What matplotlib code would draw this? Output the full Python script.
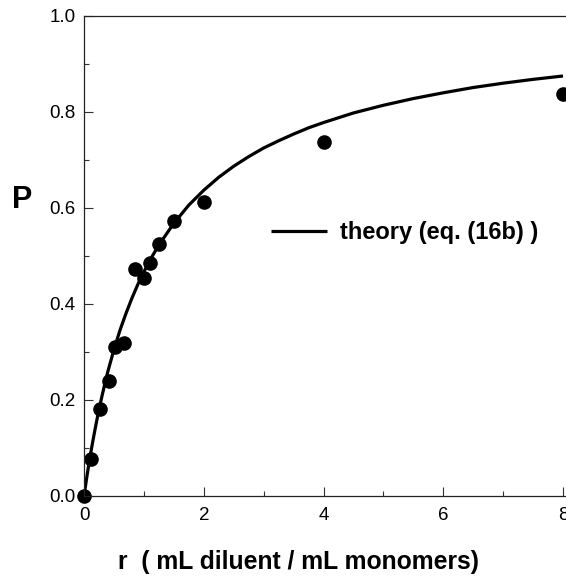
import matplotlib
matplotlib.use('Agg')
import matplotlib.pyplot as plt
from matplotlib.ticker import MultipleLocator

plt.rcParams['font.family'] = ['Liberation Sans', 'DejaVu Sans']

# measured points
r_data = [0, 0.11, 0.26, 0.41, 0.51, 0.67, 0.86, 1.01, 1.10, 1.25, 1.50, 2.0, 4.0, 8.0]
p_data = [0.0, 0.077, 0.182, 0.240, 0.311, 0.319, 0.472, 0.455, 0.486, 0.525, 0.573, 0.612, 0.738, 0.838]

# theory curve
r_theory = [0, 0.05, 0.1, 0.15, 0.2, 0.25, 0.3, 0.35, 0.4, 0.5, 0.6, 0.7, 0.8, 0.9,
            1.0, 1.1, 1.25, 1.5, 1.75, 2.0, 2.25, 2.5, 2.75, 3.0, 3.25, 3.5, 3.75,
            4.0, 4.5, 5.0, 5.5, 6.0, 6.5, 7.0, 7.5, 8.0]
p_theory = [0.0, 0.042, 0.081, 0.116, 0.149, 0.180, 0.208, 0.235, 0.260, 0.305, 0.345,
            0.380, 0.412, 0.441, 0.467, 0.491, 0.523, 0.568, 0.606, 0.637, 0.664, 0.687,
            0.707, 0.725, 0.740, 0.754, 0.767, 0.778, 0.798, 0.814, 0.828, 0.840, 0.851,
            0.860, 0.868, 0.875]

fig = plt.figure(figsize=(5.66, 5.80), dpi=100)
ax = fig.add_axes([84 / 566, 84 / 580, 482 / 566, 480 / 580])

ax.plot(r_theory, p_theory, color='black', lw=2.3, label='theory (eq. (16b) )',
        solid_capstyle='butt', solid_joinstyle='round')
ax.plot(r_data, p_data, 'o', color='black', ms=9.5, clip_on=False)

ax.set_xlim(0, 8.05)
ax.set_ylim(0, 1.0)
ax.xaxis.set_major_locator(MultipleLocator(2))
ax.xaxis.set_minor_locator(MultipleLocator(1))
ax.yaxis.set_major_locator(MultipleLocator(0.2))
ax.yaxis.set_minor_locator(MultipleLocator(0.1))
ax.yaxis.set_major_formatter(plt.FormatStrFormatter('%.1f'))

ax.tick_params(which='both', direction='in', labelsize=13.5, width=0.8, color='#333333')
ax.tick_params(which='major', length=6.5)
ax.tick_params(axis='x', which='major', pad=8)
ax.tick_params(axis='y', which='major', pad=6)
ax.tick_params(which='minor', length=3.5)
ax.spines['right'].set_visible(False)
for s in ['left', 'top', 'bottom']:
    ax.spines[s].set_linewidth(0.9)
    ax.spines[s].set_color('#222222')

ax.legend(loc='center left', bbox_to_anchor=(0.387, 0.548), frameon=False,
          borderpad=0, borderaxespad=0, handlelength=2.4, handletextpad=0.55,
          prop={'weight': 'bold', 'size': 17})

fig.text(22 / 566, 1 - 200 / 580, 'P', fontsize=22, fontweight='bold',
         ha='center', va='center')
fig.text(299 / 566, 1 - 562 / 580, 'r  ( mL diluent / mL monomers)', fontsize=17.8,
         fontweight='bold', ha='center', va='center')

fig.savefig('out.png', dpi=100)
